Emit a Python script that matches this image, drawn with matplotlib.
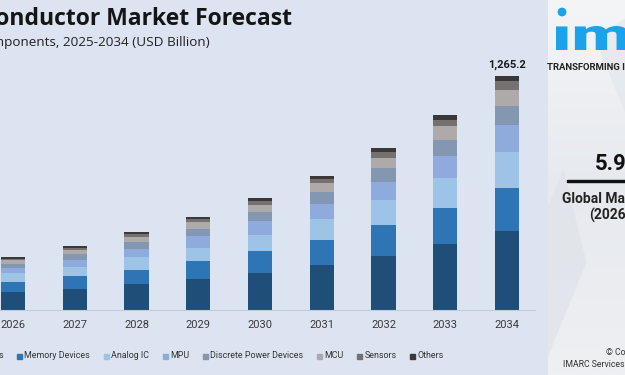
import matplotlib
matplotlib.use("Agg")
import matplotlib.pyplot as plt
import numpy as np
from matplotlib.patches import Rectangle, PathPatch, Circle
from matplotlib.colors import LinearSegmentedColormap
from matplotlib.textpath import TextPath
from matplotlib.font_manager import FontProperties
from matplotlib.transforms import Affine2D, IdentityTransform

years = ["2026", "2027", "2028", "2029", "2030", "2031", "2032", "2033", "2034"]
series_names = ["Logic Devices", "Memory Devices", "Analog IC", "MPU",
                "Discrete Power Devices", "MCU", "Sensors", "Others"]
logic    = [96, 114, 141, 168, 202, 245, 292, 355, 425.2]
memory   = [54, 67, 76, 96, 114, 135, 169, 198, 236]
analog   = [49, 51, 69, 72, 90, 110, 132, 159, 193]
mpu      = [27, 40, 45, 61, 72, 84, 99, 121, 144]
discrete = [23, 29, 34, 42, 51, 62, 77, 87, 103]
mcu      = [20, 22, 29, 34, 38, 49, 52, 72, 87]
sensors  = [9, 11, 14, 18, 24, 25, 32, 36, 50]
others   = [9, 13, 11, 11, 13, 15, 20, 25, 27]
series = [logic, memory, analog, mpu, discrete, mcu, sensors, others]
colors = ["#1f4e79", "#2e75b6", "#9dc3e6", "#8faadc", "#8497b0",
          "#aeaaaa", "#767171", "#3a3838"]

W, H = 625, 375
BG = "#dbe4f0"
fig = plt.figure(figsize=(W / 100, H / 100), dpi=100, facecolor=BG)

def fx(px):
    return px / W

def fy(py):
    return 1 - py / H

# Chart axes (left part extends beyond the visible area)
base_px, top_px = 310, 40
ax = fig.add_axes([0, fy(base_px), fx(535), (base_px - top_px) / H])
ax.set_facecolor(BG)
x = np.arange(len(years))
bottom = np.zeros(len(years))
for vals, c, name in zip(series, colors, series_names):
    ax.bar(x, vals, bottom=bottom, width=0.39, color=c, label=name, linewidth=0)
    bottom += np.array(vals)
totals = bottom
ymax = totals[-1] * (base_px - top_px) / (base_px - 75.7)
ax.set_ylim(0, ymax)
ax.set_xlim(-13 / 61.75, (535 - 13) / 61.75)
ax.set_xticks(x)
ax.set_xticklabels(years, fontsize=8, color="#3a3a3a", family="Roboto")
ax.tick_params(axis="x", length=0, pad=7)
ax.set_yticks([])
for s in ["top", "right", "left"]:
    ax.spines[s].set_visible(False)
ax.spines["bottom"].set_color("#c5ccd6")
ax.spines["bottom"].set_linewidth(0.8)
ax.annotate(f"{totals[-1]:,.1f}", (x[-1], totals[-1]), xytext=(0, 4),
            textcoords="offset points", ha="center", va="bottom",
            fontsize=8, fontweight="bold", color="#1a1a1a", family="Roboto")

# Title and subtitle (cropped on the left)
fig.text(fx(292), fy(25), "Global Semiconductor Market Forecast", ha="right",
         va="baseline", fontsize=16.5, fontweight="bold", color="#151515",
         family="Open Sans")
fig.text(fx(210), fy(46), "By Components, 2025-2034 (USD Billion)", ha="right",
         va="baseline", fontsize=9.7, color="#222222", family="Open Sans")

# Manual legend
renderer = fig.canvas.get_renderer()
leg_y = fy(356)
sq = 5
gap_text = 2.5
gap_item = 13.5
cur = 17.0
fig.text(fx(cur - gap_item), leg_y, series_names[0], fontsize=6.4,
         family="Roboto", color="#333333", va="center", ha="right")
for name, c in list(zip(series_names, colors))[1:]:
    fig.patches.append(Rectangle((fx(cur), leg_y - (sq / 2) / H), sq / W, sq / H,
                                 transform=fig.transFigure, color=c,
                                 figure=fig))
    t = fig.text(fx(cur + sq + gap_text), leg_y, name, fontsize=6.4,
                 family="Roboto", color="#333333", va="center", ha="left")
    wpx = t.get_window_extent(renderer).width
    cur = cur + sq + gap_text + wpx + gap_item

# Right-side panel (cropped)
pax = fig.add_axes([fx(548), 0, fx(W - 548), 1])
grad = np.linspace(0, 1, 200)[:, None] * np.ones((1, 20))
cm = LinearSegmentedColormap.from_list("p", ["#f4f5f7", "#e6e9ee", "#eef0f3"])
pax.imshow(grad, cmap=cm, aspect="auto", extent=[0, 1, 0, 1], origin="upper")
pax.add_patch(plt.Polygon([[0, 0.05], [0.5, 0.3], [0.2, 0.55], [0, 0.45]],
                          color="#dfe3e9", alpha=0.7, lw=0))
pax.add_patch(plt.Polygon([[0.6, 0.9], [1, 0.7], [1, 0.95]],
                          color="#e2e5ea", alpha=0.6, lw=0))
pax.set_xlim(0, 1)
pax.set_ylim(0, 1)
pax.axis("off")

# Logo: wide, heavy lettering
logo_blue = "#1aa3ea"
fp = FontProperties(family="Roboto", weight="black")
ref = TextPath((0, 0), "\u0131m", size=100, prop=fp)
rb = ref.get_extents()
sx = 72 / rb.width
sy = 24 / rb.height
logo = TextPath((0, 0), "\u0131marc", size=100, prop=fp)
tr = Affine2D().translate(-rb.x0, 0).scale(sx, sy).translate(556, H - 50)
fig.patches.append(PathPatch(logo, transform=tr, color=logo_blue, lw=0,
                             figure=fig))
fig.patches.append(Circle((562, H - 12), 4.4, transform=IdentityTransform(),
                          color=logo_blue, lw=0, figure=fig))
fig.text(fx(547), fy(70), "TRANSFORMING IDEAS INTO IMPACT", fontsize=6.8,
         fontweight="bold", color="#222222", family="Roboto", va="baseline")

fig.text(fx(595), fy(170), "5.9%", fontsize=16, fontweight="bold",
         color="#111111", family="Roboto", va="baseline")
fig.patches.append(Rectangle((fx(567), fy(182)), fx(W - 567), 2.5 / H,
                             transform=fig.transFigure, color="#111111",
                             figure=fig))
fig.text(fx(562), fy(203), "Global Market Growth Rate", fontsize=10,
         fontweight="bold", color="#222222", family="Roboto", va="baseline")
fig.text(fx(589), fy(220), "(2026-2034)", fontsize=10,
         fontweight="bold", color="#222222", family="Roboto", va="baseline")
fig.text(fx(606), fy(355), "© Copyright", fontsize=6.3,
         color="#333333", family="Roboto", va="baseline")
fig.text(fx(563), fy(367), "IMARC Services Pvt Ltd", fontsize=6.3,
         color="#333333", family="Roboto", va="baseline")

fig.savefig("out.png", dpi=100, facecolor=BG)
